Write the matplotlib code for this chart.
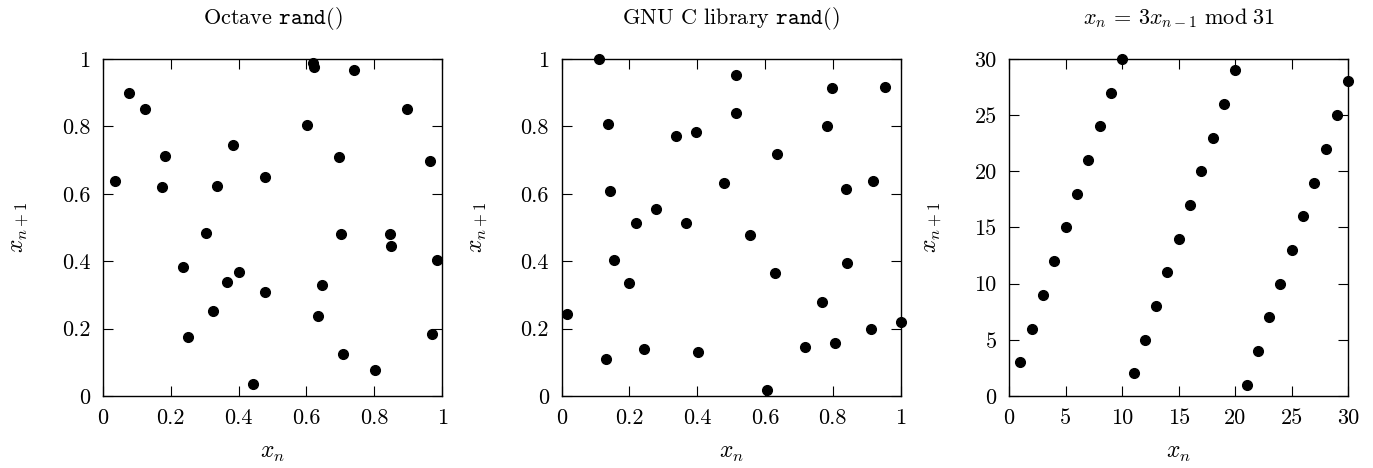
"""Successive pairs (x_n, x_{n+1}) from three pseudo random generators."""

import matplotlib

matplotlib.use("Agg")
import matplotlib.pyplot as plt
from matplotlib.ticker import FuncFormatter

plt.rcParams["font.family"] = "serif"
plt.rcParams["font.serif"] = ["cmr10"]
plt.rcParams["mathtext.fontset"] = "cm"
plt.rcParams["axes.formatter.use_mathtext"] = True

# Octave rand(): (x_n, x_{n+1})
octave_x = [0.034, 0.077, 0.123, 0.182, 0.175, 0.236, 0.251, 0.305, 0.325, 0.336,
            0.367, 0.383, 0.401, 0.443, 0.478, 0.478, 0.601, 0.618, 0.621, 0.633,
            0.647, 0.695, 0.703, 0.708, 0.741, 0.801, 0.847, 0.849, 0.896, 0.963,
            0.971, 0.984]
octave_y = [0.637, 0.899, 0.853, 0.712, 0.620, 0.384, 0.176, 0.485, 0.252, 0.623,
            0.339, 0.744, 0.369, 0.035, 0.650, 0.308, 0.805, 0.989, 0.975, 0.237,
            0.328, 0.708, 0.481, 0.124, 0.966, 0.077, 0.480, 0.446, 0.851, 0.698,
            0.184, 0.403]

# GNU C library rand()
glibc_x = [0.017, 0.109, 0.130, 0.138, 0.142, 0.156, 0.198, 0.219, 0.242, 0.279,
           0.336, 0.366, 0.395, 0.402, 0.478, 0.513, 0.514, 0.555, 0.606, 0.629,
           0.636, 0.718, 0.768, 0.783, 0.798, 0.806, 0.840, 0.841, 0.913, 0.918,
           0.953, 1.000]
glibc_y = [0.243, 1.000, 0.109, 0.806, 0.608, 0.402, 0.336, 0.514, 0.138, 0.555,
           0.770, 0.514, 0.784, 0.131, 0.631, 0.840, 0.953, 0.479, 0.017, 0.366,
           0.719, 0.144, 0.278, 0.800, 0.913, 0.158, 0.615, 0.395, 0.199, 0.637,
           0.918, 0.219]

# x_n = 3 x_{n-1} mod 31
lcg_x = [1, 2, 3, 4, 5, 6, 7, 8, 9, 10, 11, 12, 13, 14, 15,
         16, 17, 18, 19, 20, 21, 22, 23, 24, 25, 26, 27, 28, 29, 30]
lcg_y = [3, 6, 9, 12, 15, 18, 21, 24, 27, 30, 2, 5, 8, 11, 14,
         17, 20, 23, 26, 29, 1, 4, 7, 10, 13, 16, 19, 22, 25, 28]

unit_ticks = [0, 0.2, 0.4, 0.6, 0.8, 1]
lcg_ticks = [0, 5, 10, 15, 20, 25, 30]

panels = [
    (octave_x, octave_y, r"Octave $\mathtt{rand()}$", unit_ticks, 0.075),
    (glibc_x, glibc_y, r"GNU C library $\mathtt{rand()}$", unit_ticks, 0.409),
    (lcg_x, lcg_y, r"$x_n\, =\, 3x_{n-1}\ \mathrm{mod}\ 31$", lcg_ticks, 0.735),
]


def plot():
    """Create plot."""
    fig = plt.figure(figsize=(13.73, 4.68), dpi=100)
    fmt = FuncFormatter(lambda v, pos: "%g" % v)
    for xs, ys, title, ticks, left in panels:
        ax = fig.add_axes([left, 0.154, 0.247, 0.720])
        ax.plot(xs, ys, "o", color="black", markersize=7, clip_on=False)
        ax.set_xlim(ticks[0], ticks[-1])
        ax.set_ylim(ticks[0], ticks[-1])
        ax.set_xticks(ticks)
        ax.set_yticks(ticks)
        ax.xaxis.set_major_formatter(fmt)
        ax.yaxis.set_major_formatter(fmt)
        ax.tick_params(direction="in", top=True, right=True, length=7,
                       width=0.8, labelsize=16, pad=9)
        for spine in ax.spines.values():
            spine.set_linewidth(1.0)
        ax.set_title(title, fontsize=16, pad=25)
        ax.set_xlabel(r"$x_n$", fontsize=17, labelpad=10)
        ax.set_ylabel(r"$x_{n+1}$", fontsize=17, labelpad=22)

    plt.savefig("out.png", dpi=100)


def main():
    """Run."""
    plot()


if __name__ == "__main__":
    main()
